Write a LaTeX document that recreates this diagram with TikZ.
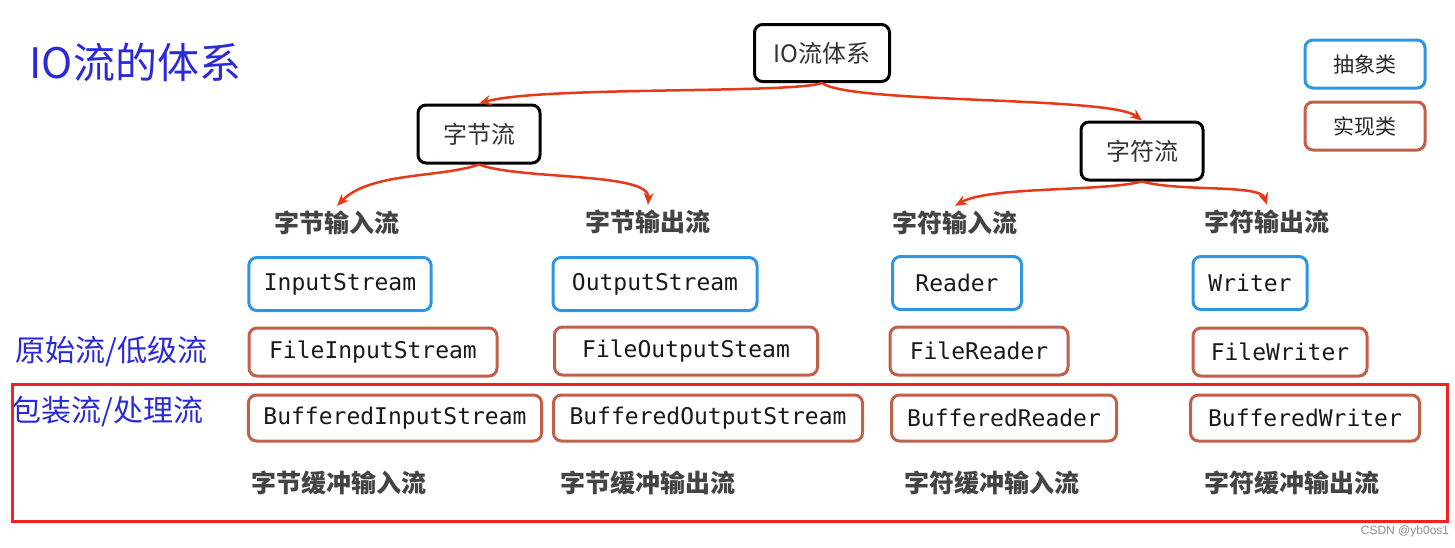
\documentclass[tikz,border=0pt]{standalone}
\usepackage{fontspec}
\usetikzlibrary{arrows.meta}
\newfontfamily\cjk{Noto Sans CJK SC}
\newfontfamily\code{DejaVu Sans Mono}
\definecolor{AbstractClr}{HTML}{2F95E0}
\definecolor{ImplClr}{HTML}{C0604A}
\definecolor{FlowClr}{HTML}{E8381A}
\definecolor{NoteClr}{HTML}{2A2AD8}
\definecolor{LabelClr}{HTML}{444444}
\definecolor{FrameClr}{HTML}{F52020}

\begin{document}
\begin{tikzpicture}[x=1pt,y=-1pt,
  rootbox/.style={draw=black,line width=3pt,rounded corners=8pt,fill=white,
    font=\cjk\fontsize{24}{28}\selectfont,text=black!80},
  legendbox/.style={draw=#1,line width=3pt,rounded corners=8pt,minimum width=120pt,
    minimum height=48pt,font=\cjk\fontsize{21}{25}\selectfont,text=black!85},
  classbox/.style={draw=#1,line width=3pt,rounded corners=8pt,inner xsep=15pt,
    minimum height=48pt,font=\code\fontsize{23}{28}\selectfont,text=black!90},
  kindlabel/.style={font=\cjk\bfseries\fontsize{25}{30}\selectfont,text=LabelClr,inner sep=5pt},
  note/.style={font=\cjk\fontsize{30}{34}\selectfont,text=NoteClr},
  flow/.style={draw=FlowClr,line width=2.5pt,-{Stealth[length=12pt,width=10pt]}}]
\useasboundingbox (0,0) rectangle (1455,547);

% title and side notes
\node[note,font=\cjk\fontsize{42}{46}\selectfont,anchor=west] (title) at (26,62) {IO流的体系};
\node[note,anchor=west] (raw) at (12,352) {原始流/低级流};
\node[note,anchor=west] (wrap) at (8,411) {包装流/处理流};

% legend
\node[legendbox=AbstractClr] (abs) at (1365,64) {抽象类};
\node[legendbox=ImplClr] (impl) at (1365,126) {实现类};

% tree
\node[rootbox,minimum width=135pt,minimum height=57pt] (io) at (822,53) {IO流体系};
\node[rootbox,minimum width=122pt,minimum height=58pt] (byte) at (479,134) {字节流};
\node[rootbox,minimum width=122pt,minimum height=58pt] (char) at (1142,151) {字符流};

\node[kindlabel] (bin) at (337,223) {字节输入流};
\node[kindlabel] (bout) at (648,222) {字节输出流};
\node[kindlabel] (cin) at (955,223) {字符输入流};
\node[kindlabel] (cout) at (1267,222) {字符输出流};

\draw[flow] (io.south) .. controls (790,94) and (540,86) .. (byte.north);
\draw[flow] (io.south) .. controls (850,104) and (1110,96) .. (char.north);
\draw[flow] (byte.south) .. controls (440,178) and (370,172) .. (bin.north);
\draw[flow] (byte.south) .. controls (520,180) and (650,172) .. (bout.north);
\draw[flow] (char.south) .. controls (1100,192) and (990,186) .. (cin.north);
\draw[flow] (char.south) .. controls (1180,192) and (1260,184) .. (cout.north);

% abstract classes
\node[classbox=AbstractClr,minimum height=53pt,minimum width=182pt] (is) at (340,284) {InputStream};
\node[classbox=AbstractClr,minimum height=53pt,minimum width=204pt] (os) at (655,284) {OutputStream};
\node[classbox=AbstractClr,minimum height=53pt,minimum width=129pt] (rd) at (957,283) {Reader};
\node[classbox=AbstractClr,minimum height=53pt,minimum width=114pt] (wr) at (1250,283) {Writer};

% file classes
\node[classbox=ImplClr,minimum width=248pt] (fis) at (373,352) {FileInputStream};
\node[classbox=ImplClr,minimum width=263pt] (fos) at (686,351) {FileOutputSteam};
\node[classbox=ImplClr,minimum width=178pt] (frd) at (979,351) {FileReader};
\node[classbox=ImplClr,minimum width=174pt] (fwr) at (1280,352) {FileWriter};

% buffered classes
\draw[FrameClr,line width=3pt] (12,384) rectangle (1447,521);
\node[classbox=ImplClr,minimum height=46pt,minimum width=293pt] (bis) at (395,418) {BufferedInputStream};
\node[classbox=ImplClr,minimum height=46pt,minimum width=309pt] (bos) at (708,418) {BufferedOutputStream};
\node[classbox=ImplClr,minimum height=46pt,minimum width=225pt] (brd) at (1004,418) {BufferedReader};
\node[classbox=ImplClr,minimum height=46pt,minimum width=229pt] (bwr) at (1305,418) {BufferedWriter};

\node[kindlabel] (bbin) at (339,483) {字节缓冲输入流};
\node[kindlabel] (bbout) at (648,483) {字节缓冲输出流};
\node[kindlabel] (bcin) at (992,483) {字符缓冲输入流};
\node[kindlabel] (bcout) at (1292,483) {字符缓冲输出流};

\node[font=\fontspec{Liberation Sans}\fontsize{12}{14}\selectfont,text=black!45] (mark) at (1405,531) {CSDN @yb0os1};
\end{tikzpicture}
\end{document}
